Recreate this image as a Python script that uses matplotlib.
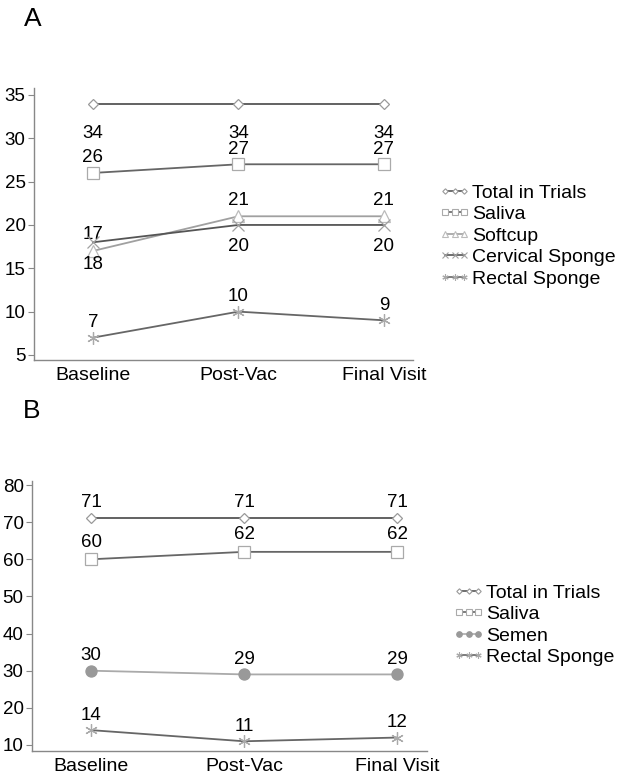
import matplotlib
matplotlib.use("Agg")
import matplotlib.pyplot as plt
from matplotlib.lines import Line2D

plt.rcParams["font.family"] = ["Liberation Sans", "DejaVu Sans"]

visits = ["Baseline", "Post-Vac", "Final Visit"]

# panel A
a_total = [34, 34, 34]
a_saliva = [26, 27, 27]
a_softcup = [17, 21, 21]
a_cervical = [18, 20, 20]
a_rectal = [7, 10, 9]

# panel B
b_total = [71, 71, 71]
b_saliva = [60, 62, 62]
b_semen = [30, 29, 29]
b_rectal = [14, 11, 12]

ASTER = (6, 2, 0)
# name -> line colour, marker, marker edge, marker face, marker size
STYLE = {
    "Total in Trials": ("#555555", "D", "#999999", "white", 5.5),
    "Saliva": ("#666666", "s", "#aaaaaa", "white", 8.5),
    "Softcup": ("#a0a0a0", "^", "#bbbbbb", "white", 8),
    "Cervical Sponge": ("#555555", "x", "#a0a0a0", "none", 8),
    "Rectal Sponge": ("#666666", ASTER, "#aaaaaa", "none", 9),
    "Semen": ("#aaaaaa", "o", "#999999", "#999999", 8),
}

NUM = 13.5
WORD = 14
PX = 72 / 100  # points per pixel at dpi 100


def draw_series(ax, name, vals, dy_px):
    col, mk, mec, mfc, ms = STYLE[name]
    x = list(range(len(vals)))
    ax.plot(x, vals, color=col, lw=1.3, marker=mk, mec=mec, mfc=mfc,
            ms=ms, mew=0.9, zorder=3)
    for xi, v in zip(x, vals):
        ax.annotate(str(v), (xi, v), xytext=(0, dy_px * PX),
                    textcoords="offset points", ha="center", va="center",
                    fontsize=NUM)


def legend_handle(name):
    col, mk, mec, mfc, ms = STYLE[name]
    return Line2D([], [], color=col, lw=1.2, marker=mk, mec=mec, mfc=mfc,
                  ms=ms * 0.5, mew=0.8)


def style_axes(ax):
    for s in ("top", "right"):
        ax.spines[s].set_visible(False)
    for s in ("left", "bottom"):
        ax.spines[s].set_color("#888888")
        ax.spines[s].set_linewidth(1.0)
    ax.set_xticks(range(len(visits)))
    ax.set_xticklabels(visits, fontsize=WORD)
    ax.tick_params(axis="x", length=0, pad=5)
    ax.tick_params(axis="y", length=4, width=0.8, color="#888888",
                   labelsize=NUM, pad=2)


fig = plt.figure(figsize=(6.19, 7.8), dpi=100)

# ---- A ----
ax = fig.add_axes([34 / 619, 1 - 360 / 780, 379 / 619, 272 / 780])
draw_series(ax, "Total in Trials", a_total, -30)
draw_series(ax, "Saliva", a_saliva, 15)
draw_series(ax, "Softcup", a_softcup, 16)
draw_series(ax, "Cervical Sponge", a_cervical, -22)
draw_series(ax, "Rectal Sponge", a_rectal, 15)
ax.set_xlim(-0.405, 2.2)
ax.set_ylim(4.42, 35.8)
ax.set_yticks(range(5, 36, 5))
style_axes(ax)
names_a = ["Total in Trials", "Saliva", "Softcup", "Cervical Sponge",
           "Rectal Sponge"]
ax.legend([legend_handle(n) for n in names_a], names_a, loc="upper left",
          bbox_to_anchor=(439 / 619, 1 - 184 / 780),
          bbox_transform=fig.transFigure, frameon=False, fontsize=WORD,
          numpoints=3, handlelength=1.6, handletextpad=0.1,
          labelspacing=0.2, borderpad=0, borderaxespad=0)
fig.text(33 / 619, 1 - 19 / 780, "A", fontsize=19, ha="center",
         va="center")

# ---- B ----
ax = fig.add_axes([32 / 619, 1 - 751 / 780, 395 / 619, 270 / 780])
draw_series(ax, "Total in Trials", b_total, 16)
draw_series(ax, "Saliva", b_saliva, 17)
draw_series(ax, "Semen", b_semen, 15)
draw_series(ax, "Rectal Sponge", b_rectal, 15)
ax.set_xlim(-0.386, 2.196)
ax.set_ylim(8.38, 81.08)
ax.set_yticks(range(10, 81, 10))
style_axes(ax)
names_b = ["Total in Trials", "Saliva", "Semen", "Rectal Sponge"]
ax.legend([legend_handle(n) for n in names_b], names_b, loc="upper left",
          bbox_to_anchor=(453 / 619, 1 - 584 / 780),
          bbox_transform=fig.transFigure, frameon=False, fontsize=WORD,
          numpoints=3, handlelength=1.6, handletextpad=0.1,
          labelspacing=0.2, borderpad=0, borderaxespad=0)
fig.text(32 / 619, 1 - 411 / 780, "B", fontsize=19, ha="center",
         va="center")

fig.savefig("out.png", dpi=100)
